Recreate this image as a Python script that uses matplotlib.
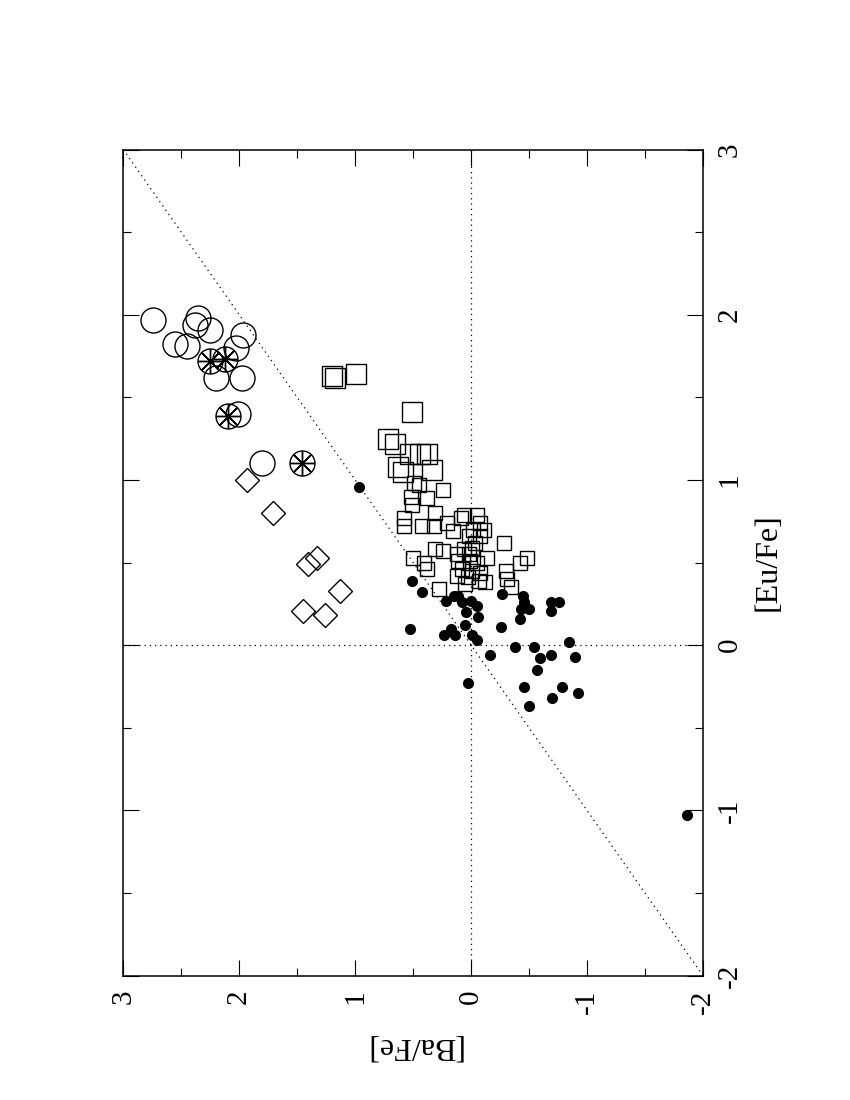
import matplotlib
matplotlib.use("Agg")
import matplotlib.pyplot as plt
from matplotlib.ticker import MultipleLocator

plt.rcParams['font.family'] = ['Liberation Serif', 'DejaVu Serif']
plt.rcParams['axes.unicode_minus'] = False

# -----------------------------------
# Data: [Ba/Fe], [Eu/Fe] per group
# -----------------------------------
dot_ba = [0.51, 0.42, 0.22, 0.15, 0.11, 0.08, 0.00, -0.05, 0.04, -0.06,
          -0.27, -0.45, -0.46, -0.43, -0.50, -0.42, -0.69, -0.76, -0.69, 0.53,
          0.17, 0.23, 0.14, 0.05, -0.01, -0.05, -0.26, -0.16, -0.38, -0.54,
          -0.59, -0.69, -0.84, -0.90, -0.57, 0.03, -0.46, -0.78, -0.70, -0.92,
          -0.50, 0.97, -1.86]
dot_eu = [0.39, 0.32, 0.27, 0.30, 0.30, 0.26, 0.27, 0.24, 0.20, 0.17,
          0.31, 0.30, 0.26, 0.22, 0.22, 0.16, 0.26, 0.26, 0.21, 0.10,
          0.10, 0.06, 0.06, 0.12, 0.06, 0.03, 0.11, -0.06, -0.01, -0.01,
          -0.08, -0.06, 0.02, -0.07, -0.15, -0.23, -0.25, -0.25, -0.32, -0.29,
          -0.37, 0.96, -1.03]

big_sq_ba = [1.20, 1.17, 0.99, 0.51, 0.72, 0.66, 0.53, 0.44, 0.38, 0.63, 0.59, 0.34]
big_sq_eu = [1.63, 1.62, 1.64, 1.41, 1.25, 1.22, 1.16, 1.16, 1.16, 1.08, 1.05, 1.06]

sq_ba = [0.49, 0.45, 0.24, 0.52, 0.38, 0.51, 0.31, 0.58, 0.58, 0.42,
         0.32, 0.21, 0.09, 0.06, -0.05, -0.08, 0.16, -0.02, -0.11, 0.02,
         -0.08, -0.28, 0.31, 0.24, 0.06, 0.12, -0.14, 0.11, 0.01, -0.05,
         0.50, 0.41, 0.38, 0.08, -0.01, -0.08, 0.12, 0.03, -0.07, -0.12,
         0.28, -0.48, -0.42, -0.30, -0.31, -0.34, 0.05, -0.01, 0.02, -0.03]
sq_eu = [0.98, 0.97, 0.94, 0.90, 0.89, 0.85, 0.80, 0.77, 0.72, 0.72,
         0.72, 0.74, 0.77, 0.79, 0.79, 0.74, 0.69, 0.70, 0.70, 0.66,
         0.66, 0.62, 0.58, 0.57, 0.58, 0.55, 0.53, 0.51, 0.51, 0.50,
         0.53, 0.50, 0.46, 0.46, 0.45, 0.44, 0.42, 0.41, 0.39, 0.38,
         0.34, 0.53, 0.50, 0.45, 0.40, 0.35, 0.37, 0.59, 0.55, 0.62]

circ_ba = [2.74, 2.36, 2.38, 2.25, 2.55, 2.45, 1.97, 2.03, 2.20, 1.98, 2.01, 1.80]
circ_eu = [1.97, 1.98, 1.94, 1.91, 1.82, 1.81, 1.88, 1.80, 1.62, 1.62, 1.40, 1.10]

star_ba = [2.25, 2.12, 2.10, 1.46]
star_eu = [1.72, 1.73, 1.39, 1.10]

dia_ba = [1.93, 1.71, 1.33, 1.41, 1.13, 1.45, 1.26]
dia_eu = [1.00, 0.80, 0.53, 0.49, 0.33, 0.21, 0.18]

# -----------------------------------
# Figure (page is rotated: Ba runs right-to-left, Eu bottom-to-top)
# -----------------------------------
fig = plt.figure(figsize=(8.5, 11), dpi=100)
ax = fig.add_axes([123.3 / 850, 1 - 975.7 / 1100, (703 - 123.3) / 850, (975.7 - 149.5) / 1100])

dot_style = dict(color="black", lw=0.9, linestyle=(0, (1, 3.2)))
ax.plot([3, -2], [3, -2], **dot_style)
ax.axvline(0, **dot_style)
ax.axhline(0, **dot_style)

open_kw = dict(linestyle="none", markerfacecolor="none", markeredgecolor="black",
               markeredgewidth=1.0)
ax.plot(big_sq_ba, big_sq_eu, marker="s", markersize=15, **open_kw)
ax.plot(sq_ba, sq_eu, marker="s", markersize=10, **open_kw)
ax.plot(circ_ba, circ_eu, marker="o", markersize=18, **open_kw)
ax.plot(star_ba, star_eu, marker="o", markersize=18, **open_kw)
ax.plot(star_ba, star_eu, marker=(8, 2, 0), markersize=18, **open_kw)
ax.plot(dia_ba, dia_eu, marker="D", markersize=12.5, **open_kw)
ax.plot(dot_ba, dot_eu, linestyle="none", marker="o", markersize=7,
        color="black")

ax.set_xlim(3, -2)
ax.set_ylim(-2, 3)
ax.xaxis.set_major_locator(MultipleLocator(1))
ax.xaxis.set_minor_locator(MultipleLocator(0.5))
ax.yaxis.set_major_locator(MultipleLocator(1))
ax.yaxis.set_minor_locator(MultipleLocator(0.5))

ax.tick_params(which="both", direction="in", top=True, bottom=True,
               left=True, right=True, labelleft=False, labelright=True,
               labelsize=21, width=0.8)
ax.tick_params(which="major", length=11.5, pad=10)
ax.tick_params(which="minor", length=5.8)
for lab in ax.get_xticklabels():
    lab.set_rotation(90)
for lab in ax.get_yticklabels():
    lab.set_rotation(90)
    lab.set_va("center")

ax.set_xlabel("[Ba/Fe]", fontsize=23, rotation=180, labelpad=12)
ax.yaxis.set_label_position("right")
ax.set_ylabel("[Eu/Fe]", fontsize=23, rotation=90, labelpad=8)

for sp in ax.spines.values():
    sp.set_linewidth(1.1)

fig.savefig("out.png", dpi=100)
